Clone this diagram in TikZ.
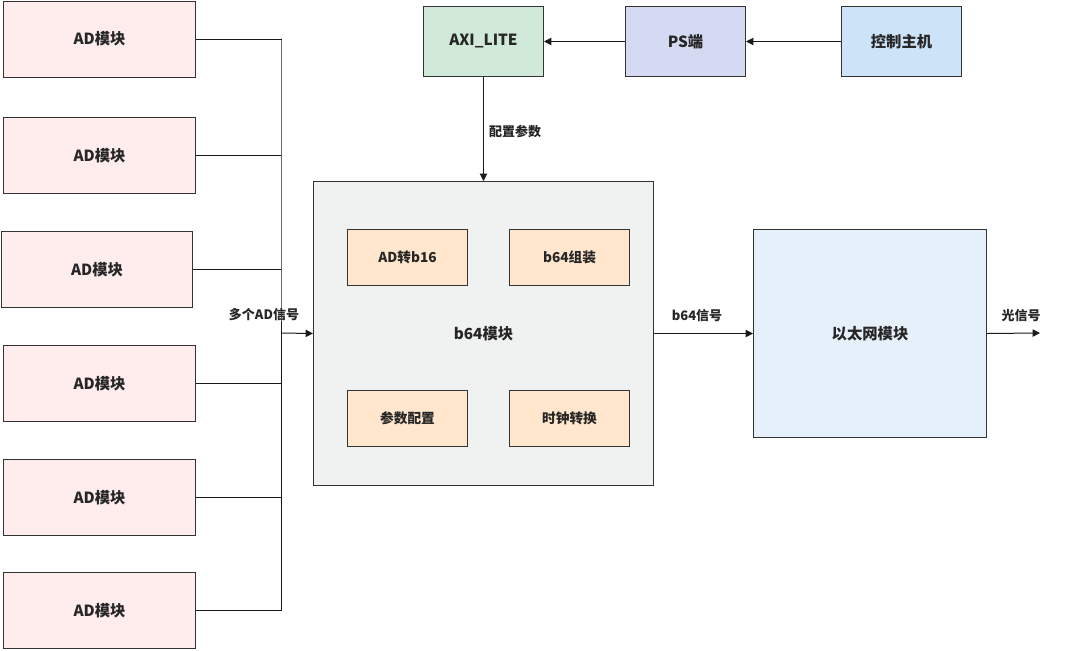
\documentclass[tikz,border=0pt]{standalone}
\usepackage{fontspec}
\setmainfont{Noto Sans CJK SC}
\usetikzlibrary{arrows.meta}
\definecolor{adfill}{HTML}{FFECEC}
\definecolor{axifill}{HTML}{D0E9D8}
\definecolor{psfill}{HTML}{D3DAF1}
\definecolor{hostfill}{HTML}{CCE3F8}
\definecolor{bigfill}{HTML}{F0F2F1}
\definecolor{subfill}{HTML}{FFE6CC}
\definecolor{ethfill}{HTML}{E6F0FA}
\definecolor{edge}{HTML}{333333}
\definecolor{linec}{HTML}{1A1A1A}
\tikzset{
  blk/.style={draw=edge, line width=0.75pt, anchor=north west, inner sep=0pt, font=\bfseries\fontsize{11.5}{13}\selectfont, text=black!85},
  subblk/.style={blk, fill=subfill, minimum width=90pt, minimum height=42pt, font=\bfseries\fontsize{10.25}{12}\selectfont},
  conn/.style={draw=linec, line width=0.75pt},
  arr/.style={conn, -{Triangle[length=5.5pt,width=5.5pt]}},
  lbl/.style={font=\bfseries\fontsize{9.75}{11}\selectfont, text=black!85, inner sep=0pt},
}
\begin{document}
\begin{tikzpicture}[x=0.75pt,y=-0.75pt]
\useasboundingbox (0,0) rectangle (1082,650);
% AD modules
\node[blk, fill=adfill, minimum width=144pt, minimum height=57pt] (ad1) at (3,0.5) {AD模块};
\node[blk, fill=adfill, minimum width=144pt, minimum height=57pt] (ad2) at (3,117) {AD模块};
\node[blk, fill=adfill, minimum width=143.25pt, minimum height=57pt] (ad3) at (1,231) {AD模块};
\node[blk, fill=adfill, minimum width=144pt, minimum height=57pt] (ad4) at (3,345) {AD模块};
\node[blk, fill=adfill, minimum width=144pt, minimum height=57pt] (ad5) at (3,459) {AD模块};
\node[blk, fill=adfill, minimum width=144pt, minimum height=57pt] (ad6) at (3,572) {AD模块};
% top row
\node[blk, fill=axifill, minimum width=90pt, minimum height=52.5pt] (axi) at (423,6) {AXI\_LITE};
\node[blk, fill=psfill, minimum width=90pt, minimum height=52.5pt] (ps) at (625,6) {PS端};
\node[blk, fill=hostfill, minimum width=90pt, minimum height=52.5pt] (host) at (841,6) {控制主机};
% b64 module
\node[blk, fill=bigfill, minimum width=255pt, minimum height=228pt] (b64) at (313,181) {b64模块};
\node[subblk] (ad16) at (347,229) {AD转b16};
\node[subblk] (asm) at (509,229) {b64组装};
\node[subblk] (cfg) at (347,390) {参数配置};
\node[subblk] (clk) at (509,390) {时钟转换};
% ethernet
\node[blk, fill=ethfill, minimum width=174.75pt, minimum height=156pt] (eth) at (753,229) {以太网模块};
% bus
\coordinate (bustop) at (281,38.5);
\coordinate (busbot) at (281,610);
\coordinate (busmid) at (281,333);
\draw[conn] (ad1.east) -| (bustop) -- (busbot);
\foreach \n in {ad2,ad3,ad4,ad5}{\draw[conn] (\n.east) -- (\n.east -| bustop);}
\draw[conn] (ad6.east) -| (busbot);
\draw[arr] (busmid) -- (b64.west);
\node[lbl] (lmulti) at (264,315) {多个AD信号};
% top arrows
\draw[arr] (host.west) -- (ps.east);
\draw[arr] (ps.west) -- (axi.east);
\draw[arr] (axi.south) -- (axi.south |- b64.north);
\node[lbl] (lcfg) at (515,131) {配置参数};
% right arrows
\draw[arr] (b64.east) -- (eth.west);
\node[lbl] (lb64) at (697,316) {b64信号};
\coordinate (outend) at (1040,333);
\draw[arr] (eth.east) -- (outend);
\node[lbl] (lopt) at (1021,316) {光信号};
\end{tikzpicture}
\end{document}
